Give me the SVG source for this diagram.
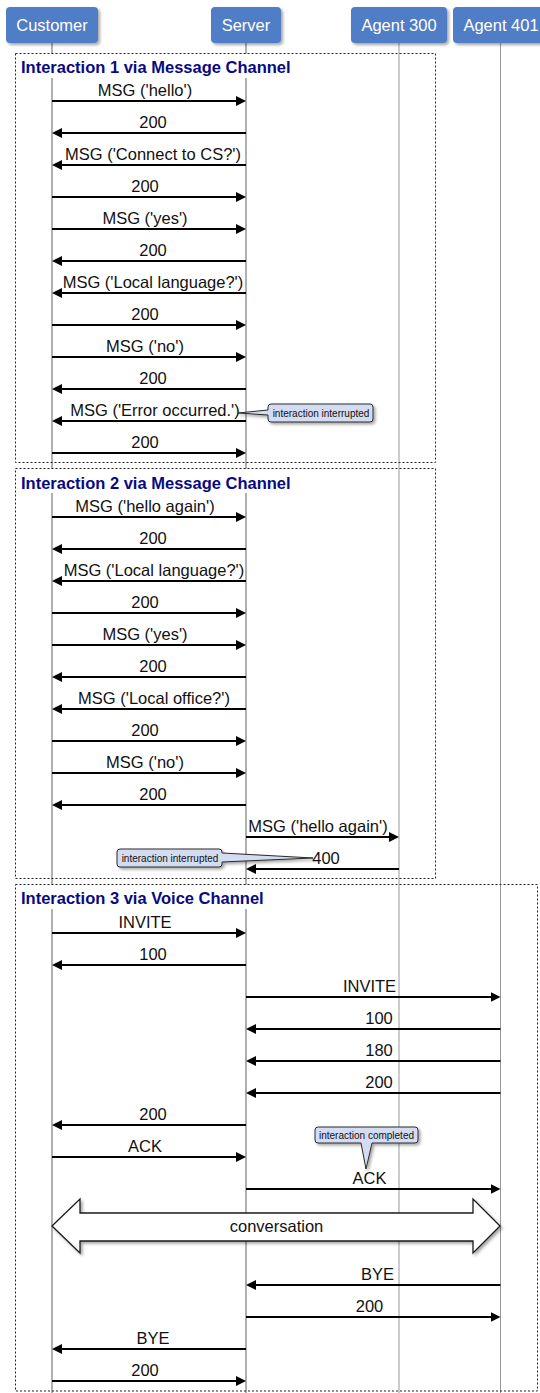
<svg xmlns="http://www.w3.org/2000/svg" width="540" height="1393" viewBox="0 0 540 1393">
  <style>
    .head { fill: #4f7dc6; }
    .headtxt { font-family: "Liberation Sans", Arial, sans-serif; font-size: 16.5px; fill: #ffffff; text-anchor: middle; }
    .life { stroke: #b0b0b0; stroke-width: 2; fill: none; }
    .life2 { stroke: #999999; stroke-width: 1; fill: none; }
    .frame { fill: none; stroke: #222222; stroke-width: 1; stroke-dasharray: 2 2; }
    .ttl { font-family: "Liberation Sans", Arial, sans-serif; font-size: 16.5px; font-weight: bold; fill: #0a0a80; }
    .ttlbg { fill: #ffffff; }
    .msg { stroke: #000000; stroke-width: 2; fill: none; marker-end: url(#ah); }
    .lbl { font-family: "Liberation Sans", Arial, sans-serif; font-size: 16.5px; fill: #111111; text-anchor: middle; }
    .note { fill: #d3dcf0; stroke: #2a2a2a; stroke-width: 1; }
    .notetxt { font-family: "Liberation Sans", Arial, sans-serif; font-size: 10px; fill: #111111; text-anchor: middle; }
    .conv { fill: #ffffff; stroke: #1a1a1a; stroke-width: 1.3; }
  </style>
  <defs>
    <marker id="ah" viewBox="0 0 10 10" refX="2" refY="5" markerWidth="10" markerHeight="10" markerUnits="userSpaceOnUse" orient="auto">
      <path d="M0,0 L10,5 L0,10 z" fill="#000000"/>
    </marker>
    <filter id="shadow" x="-10%" y="-20%" width="130%" height="160%">
      <feDropShadow dx="2" dy="2" stdDeviation="1.5" flood-color="#000000" flood-opacity="0.35"/>
    </filter>
  </defs>

  <rect width="540" height="1393" fill="#ffffff"/>

  <!-- lifelines -->
  <g id="lifelines">
    <line class="life" x1="52" y1="43" x2="52" y2="1393"/>
    <line class="life" x1="246" y1="43" x2="246" y2="1393"/>
    <line class="life2" x1="399" y1="43" x2="399" y2="1393"/>
    <line class="life2" x1="500.5" y1="43" x2="500.5" y2="1393"/>
  </g>

  <!-- participants -->
  <g id="customer">
    <rect class="head" x="6" y="7" width="92" height="36" rx="4" filter="url(#shadow)"/>
    <text class="headtxt" x="52" y="31">Customer</text>
  </g>
  <g id="server">
    <rect class="head" x="211" y="7" width="70" height="36" rx="4" filter="url(#shadow)"/>
    <text class="headtxt" x="246" y="31">Server</text>
  </g>
  <g id="agent300">
    <rect class="head" x="351" y="7" width="96" height="36" rx="4" filter="url(#shadow)"/>
    <text class="headtxt" x="399" y="31">Agent 300</text>
  </g>
  <g id="agent401">
    <rect class="head" x="453" y="7" width="96" height="36" rx="4" filter="url(#shadow)"/>
    <text class="headtxt" x="501" y="31">Agent 401</text>
  </g>

  <!-- interaction frames -->
  <g id="frame1">
    <rect class="frame" x="15.5" y="53.5" width="420" height="409"/>
    <rect class="ttlbg" x="16" y="54" width="277" height="24"/>
    <text class="ttl" x="21" y="73">Interaction 1 via Message Channel</text>
  </g>
  <g id="frame2">
    <rect class="frame" x="15.5" y="468.5" width="420" height="410"/>
    <rect class="ttlbg" x="16" y="469" width="277" height="24"/>
    <text class="ttl" x="21" y="489">Interaction 2 via Message Channel</text>
  </g>
  <g id="frame3">
    <rect class="frame" x="15.5" y="884.5" width="522" height="506.5"/>
    <rect class="ttlbg" x="16" y="885" width="252" height="24"/>
    <text class="ttl" x="21" y="904">Interaction 3 via Voice Channel</text>
  </g>

  <!-- messages -->
  <g id="connectors">
    <!-- interaction 1 -->
    <line class="msg" x1="52" y1="101" x2="238" y2="101"/>
    <text class="lbl" x="145" y="96">MSG ('hello')</text>
    <line class="msg" x1="246" y1="133" x2="60" y2="133"/>
    <text class="lbl" x="153" y="128">200</text>
    <line class="msg" x1="246" y1="165" x2="60" y2="165"/>
    <text class="lbl" x="153" y="160">MSG ('Connect to CS?')</text>
    <line class="msg" x1="52" y1="197" x2="238" y2="197"/>
    <text class="lbl" x="145" y="192">200</text>
    <line class="msg" x1="52" y1="229" x2="238" y2="229"/>
    <text class="lbl" x="145" y="224">MSG ('yes')</text>
    <line class="msg" x1="246" y1="261" x2="60" y2="261"/>
    <text class="lbl" x="153" y="256">200</text>
    <line class="msg" x1="246" y1="293" x2="60" y2="293"/>
    <text class="lbl" x="153" y="288">MSG ('Local language?')</text>
    <line class="msg" x1="52" y1="325" x2="238" y2="325"/>
    <text class="lbl" x="145" y="320">200</text>
    <line class="msg" x1="52" y1="357" x2="238" y2="357"/>
    <text class="lbl" x="145" y="352">MSG ('no')</text>
    <line class="msg" x1="246" y1="389" x2="60" y2="389"/>
    <text class="lbl" x="153" y="384">200</text>
    <line class="msg" x1="246" y1="421" x2="60" y2="421"/>
    <text class="lbl" x="155" y="416">MSG ('Error occurred.')</text>
    <line class="msg" x1="52" y1="453" x2="238" y2="453"/>
    <text class="lbl" x="145" y="448">200</text>

    <!-- interaction 2 -->
    <line class="msg" x1="52" y1="517" x2="238" y2="517"/>
    <text class="lbl" x="145" y="512">MSG ('hello again')</text>
    <line class="msg" x1="246" y1="549" x2="60" y2="549"/>
    <text class="lbl" x="153" y="544">200</text>
    <line class="msg" x1="246" y1="581" x2="60" y2="581"/>
    <text class="lbl" x="154" y="576">MSG ('Local language?')</text>
    <line class="msg" x1="52" y1="613" x2="238" y2="613"/>
    <text class="lbl" x="145" y="608">200</text>
    <line class="msg" x1="52" y1="645" x2="238" y2="645"/>
    <text class="lbl" x="145" y="640">MSG ('yes')</text>
    <line class="msg" x1="246" y1="677" x2="60" y2="677"/>
    <text class="lbl" x="153" y="672">200</text>
    <line class="msg" x1="246" y1="709" x2="60" y2="709"/>
    <text class="lbl" x="154" y="704">MSG ('Local office?')</text>
    <line class="msg" x1="52" y1="741" x2="238" y2="741"/>
    <text class="lbl" x="145" y="736">200</text>
    <line class="msg" x1="52" y1="773" x2="238" y2="773"/>
    <text class="lbl" x="145" y="768">MSG ('no')</text>
    <line class="msg" x1="246" y1="805" x2="60" y2="805"/>
    <text class="lbl" x="153" y="800">200</text>
    <line class="msg" x1="246" y1="837" x2="391" y2="837"/>
    <text class="lbl" x="318" y="832">MSG ('hello again')</text>
    <line class="msg" x1="399" y1="869" x2="254" y2="869"/>
    <text class="lbl" x="326" y="864">400</text>

    <!-- interaction 3 -->
    <line class="msg" x1="52" y1="933" x2="238" y2="933"/>
    <text class="lbl" x="145" y="928">INVITE</text>
    <line class="msg" x1="246" y1="965" x2="60" y2="965"/>
    <text class="lbl" x="153" y="960">100</text>
    <line class="msg" x1="246" y1="997" x2="492.5" y2="997"/>
    <text class="lbl" x="369.5" y="992">INVITE</text>
    <line class="msg" x1="500.5" y1="1029" x2="254" y2="1029"/>
    <text class="lbl" x="379" y="1024">100</text>
    <line class="msg" x1="500.5" y1="1061" x2="254" y2="1061"/>
    <text class="lbl" x="379" y="1056">180</text>
    <line class="msg" x1="500.5" y1="1093" x2="254" y2="1093"/>
    <text class="lbl" x="379" y="1088">200</text>
    <line class="msg" x1="246" y1="1125" x2="60" y2="1125"/>
    <text class="lbl" x="153" y="1120">200</text>
    <line class="msg" x1="52" y1="1157" x2="238" y2="1157"/>
    <text class="lbl" x="145" y="1152">ACK</text>
    <line class="msg" x1="246" y1="1189" x2="492.5" y2="1189"/>
    <text class="lbl" x="369.5" y="1184">ACK</text>

    <path class="conv" filter="url(#shadow)" d="M52,1226 L80,1199 L80,1213 L473,1213 L473,1199 L500,1226 L473,1253 L473,1241 L80,1241 L80,1253 Z"/>
    <text class="lbl" x="276.5" y="1232">conversation</text>

    <line class="msg" x1="500.5" y1="1285" x2="254" y2="1285"/>
    <text class="lbl" x="377.5" y="1280">BYE</text>
    <line class="msg" x1="246" y1="1317" x2="492.5" y2="1317"/>
    <text class="lbl" x="369.5" y="1312">200</text>
    <line class="msg" x1="246" y1="1349" x2="60" y2="1349"/>
    <text class="lbl" x="153" y="1344">BYE</text>
    <line class="msg" x1="52" y1="1381" x2="238" y2="1381"/>
    <text class="lbl" x="145" y="1376">200</text>
  </g>

  <!-- notes -->
  <g id="note1">
    <path class="note" filter="url(#shadow)" d="M271,404 H370 Q373,404 373,407 V419 Q373,422 370,422 H271 Q268,422 268,419 V415 L238,413 L268,410 V407 Q268,404 271,404 Z"/>
    <text class="notetxt" x="321" y="417">interaction interrupted</text>
  </g>
  <g id="note2">
    <path class="note" filter="url(#shadow)" d="M120,849 H219 Q222,849 222,852 V853 L313,858 L222,862 V864 Q222,867 219,867 H120 Q117,867 117,864 V852 Q117,849 120,849 Z"/>
    <text class="notetxt" x="170" y="862">interaction interrupted</text>
  </g>
  <g id="note3">
    <path class="note" filter="url(#shadow)" d="M318,1127 H415 Q418,1127 418,1130 V1140 Q418,1143 415,1143 H372 L366,1169 L361,1143 H318 Q315,1143 315,1140 V1130 Q315,1127 318,1127 Z"/>
    <text class="notetxt" x="366.5" y="1139">interaction completed</text>
  </g>
</svg>
